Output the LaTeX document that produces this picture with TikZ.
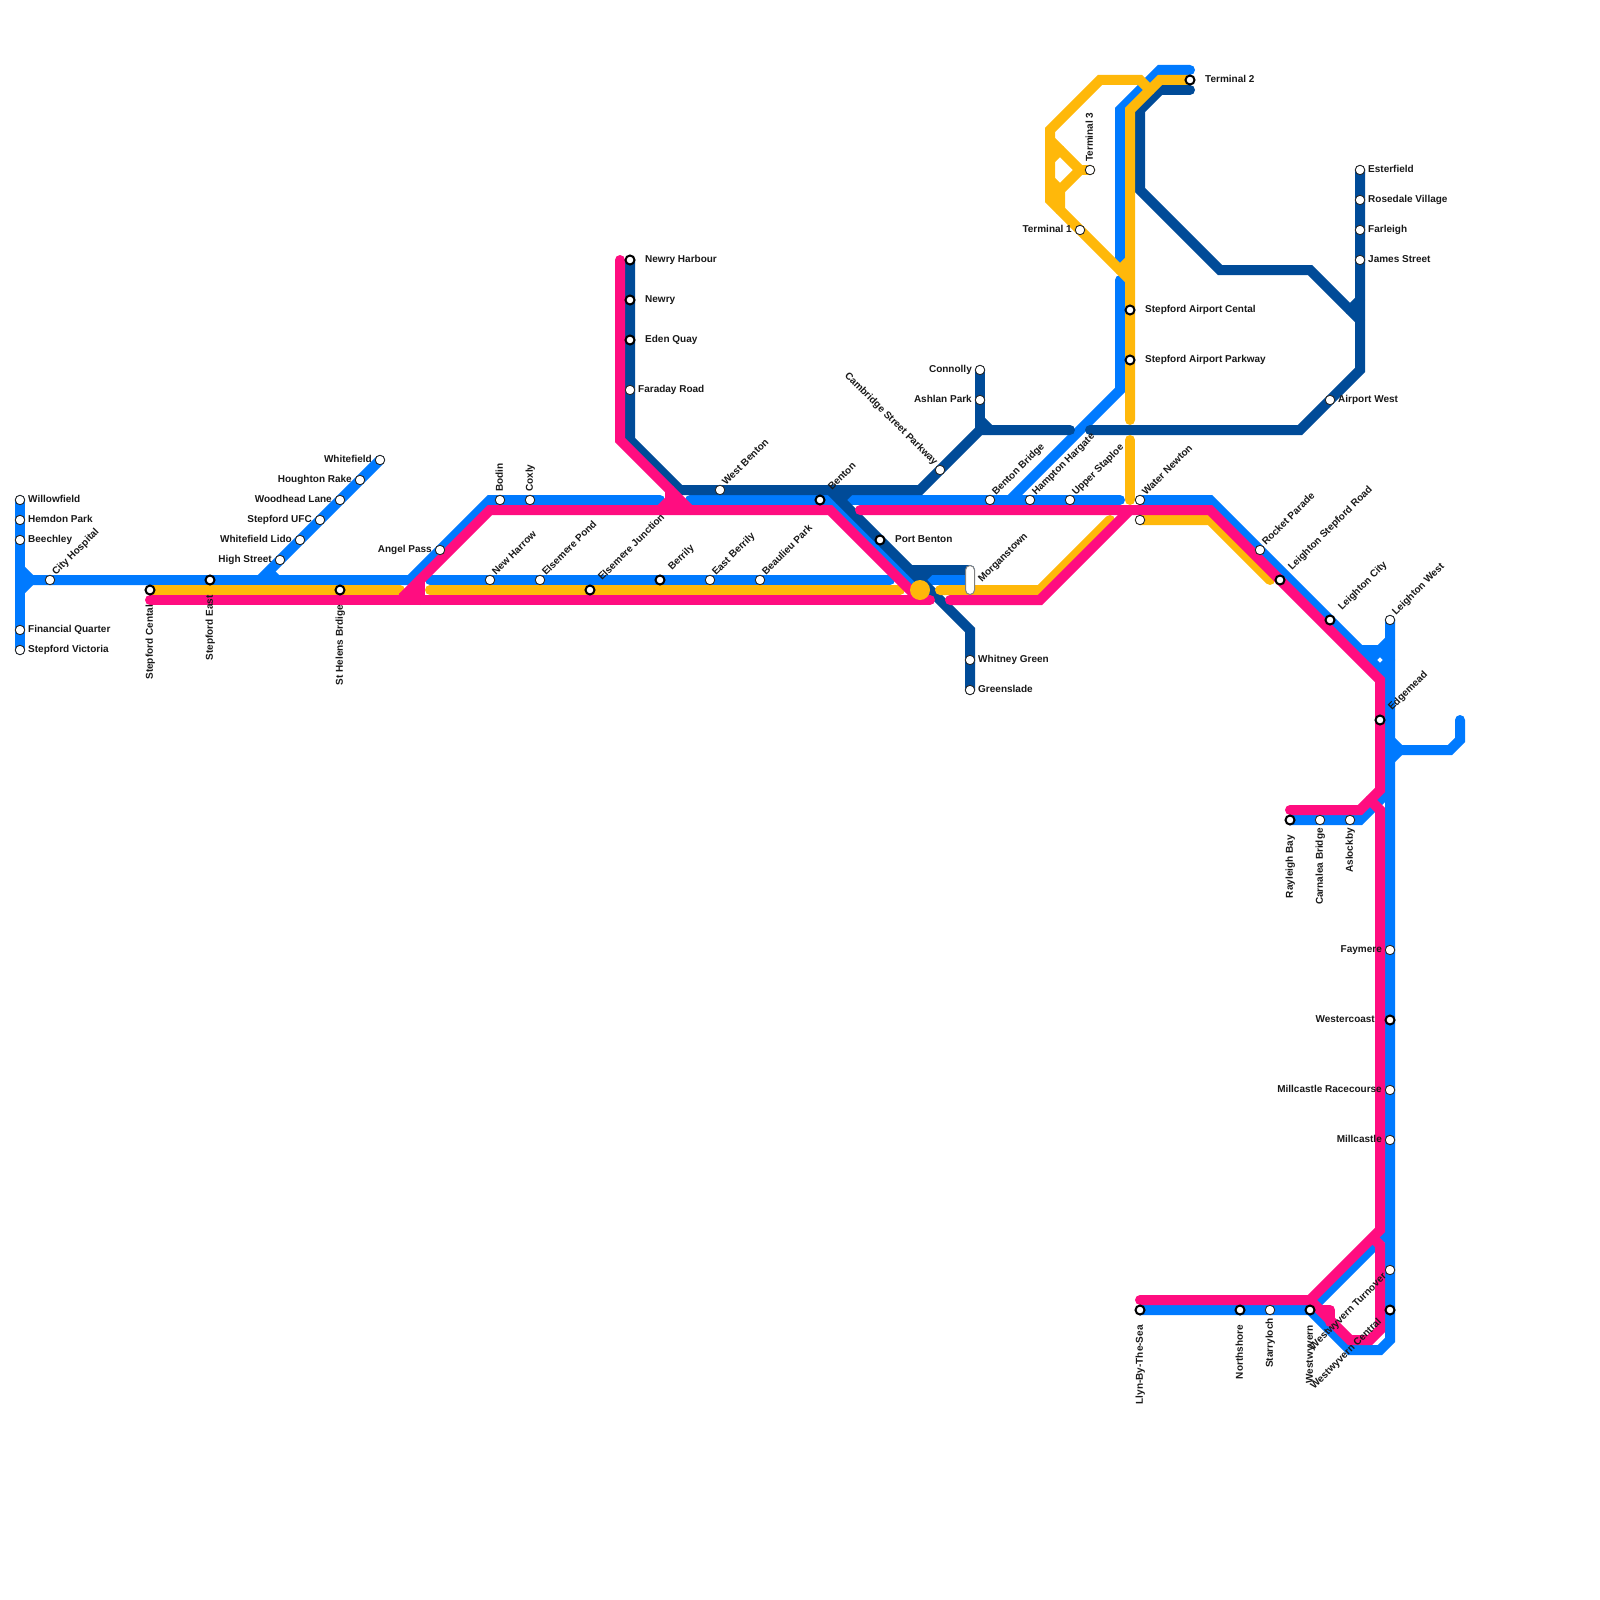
\documentclass[tikz,border=0pt]{standalone}
\usepackage{fontspec}
\setmainfont{Liberation Sans}
\usetikzlibrary{backgrounds}
\definecolor{lineblue}{HTML}{007AFF}
\definecolor{linenavy}{HTML}{004B98}
\definecolor{linepink}{HTML}{FF0D80}
\definecolor{lineamber}{HTML}{FFB80A}
\tikzset{
  blueline/.style={draw=lineblue, line width=10pt, line cap=round, line join=miter},
  navyline/.style={draw=linenavy, line width=10pt, line cap=round, line join=miter},
  pinkline/.style={draw=linepink, line width=10pt, line cap=round, line join=miter},
  amberline/.style={draw=lineamber, line width=10pt, line cap=round, line join=miter},
  stn/.style={draw=black!85, fill=white, circle, line width=0.9pt, minimum size=9.5pt, inner sep=0pt},
  stnx/.style={draw=black, fill=white, circle, line width=2pt, minimum size=9pt, inner sep=0pt},
  lbl/.style={font=\fontsize{10}{12}\selectfont\bfseries, inner sep=0pt, text height=7.5pt, text depth=2pt, text=black!90},
  lblr/.style={lbl, anchor=west},
  lbll/.style={lbl, anchor=east},
  lblne/.style={lbl, anchor=west, rotate=45},
  lblsw/.style={lbl, anchor=east, rotate=45},
  lblnw/.style={lbl, anchor=east, rotate=-45},
  lbldn/.style={lbl, anchor=east, rotate=90},
  lblup/.style={lbl, anchor=west, rotate=90},
}
\begin{document}
\begin{tikzpicture}[x=1pt, y=-1pt]
    \useasboundingbox (0,0) rectangle (1600,1600);
    \node[stn] (willow) at (20,500) {};
    \node[stn] (hemdon) at (20,520) {};
    \node[stn] (beech) at (20,540) {};
    \node[stn] (fquarter) at (20,630) {};
    \node[stn] (svictoria) at (20,650) {};
    \node[stn] (chospital) at (50,580) {};
    \node[stnx] (scental) at (150,590) {};
    \node[stnx] (seast) at (210,580) {};
    \node[stnx] (shelens) at (340,590) {};
    \node[stn] (hstreet) at (280,560) {};
    \node[stn] (wlido) at (300,540) {};
    \node[stn] (sufc) at (320,520) {};
    \node[stn] (wlane) at (340,500) {};
    \node[stn] (hrake) at (360,480) {};
    \node[stn] (wfield) at (380,460) {};
    \node[stn] (apass) at (440,550) {};
    \node[stn] (bodin) at (500,500) {};
    \node[stn] (coxly) at (530,500) {};
    \node[stn] (nharrow) at (490,580) {};
    \node[stn] (epond) at (540,580) {};
    \node[stnx] (ejunction) at (590,590) {};
    \node[stnx] (berrily) at (660,580) {};
    \node[stn] (eberrily) at (710,580) {};
    \node[stn] (bpark) at (760,580) {};
    \node[stnx] (nharbour) at (630,260) {};
    \node[stnx] (newry) at (630,300) {};
    \node[stnx] (equay) at (630,340) {};
    \node[stn] (froad) at (630,390) {};
    \node[stn] (wbenton) at (720,490) {};
    \node[stnx] (benton) at (820,500) {};
    \node[stnx] (pbenton) at (880,540) {};
    \node[stn] (csp) at (940,470) {};
    \node[stn] (connolly) at (980,370) {};
    \node[stn] (ashlan) at (980,400) {};
    \node[stn] (bbridge) at (990,500) {};
    \node[stn] (hhargate) at (1030,500) {};
    \node[stn] (ustaploe) at (1070,500) {};
    \node[stn] (wnewton) at (1140,500) {};
    \node[stn] (wnewton2) at (1140,520) {};
    \node[stn] (wgreen) at (970,660) {};
    \node[stn] (gslade) at (970,690) {};
    \node[stn] (term1) at (1080,230) {};
    \node[stn] (term3) at (1090,170) {};
    \node[stnx] (term2) at (1190,80) {};
    \node[stnx] (sacental) at (1130,310) {};
    \node[stnx] (saparkway) at (1130,360) {};
    \node[stn] (ester) at (1360,170) {};
    \node[stn] (rosedale) at (1360,200) {};
    \node[stn] (farleigh) at (1360,230) {};
    \node[stn] (james) at (1360,260) {};
    \node[stn] (awest) at (1330,400) {};
    \node[stn] (rocket) at (1260,550) {};
    \node[stnx] (lsroad) at (1280,580) {};
    \node[stnx] (lcity) at (1330,620) {};
    \node[stn] (lwest) at (1390,620) {};
    \node[stnx] (edge) at (1380,720) {};
    \node[stnx] (rbay) at (1290,820) {};
    \node[stn] (carnalea) at (1320,820) {};
    \node[stn] (aslock) at (1350,820) {};
    \node[stn] (faymere) at (1390,950) {};
    \node[stnx] (wcoast) at (1390,1020) {};
    \node[stn] (mrace) at (1390,1090) {};
    \node[stn] (mcastle) at (1390,1140) {};
    \node[stn] (wturn) at (1390,1270) {};
    \node[stnx] (wcentral) at (1390,1310) {};
    \node[stnx] (llyn) at (1140,1310) {};
    \node[stnx] (nshore) at (1240,1310) {};
    \node[stn] (sloch) at (1270,1310) {};
    \node[stnx] (wwyvern) at (1310,1310) {};
    \node[draw=gray, fill=white, line width=1pt, rounded corners=4.5pt, minimum width=9pt, minimum height=29pt, inner sep=0pt] (mtown) at (970,580) {};
    \node[fill=lineamber, circle, minimum size=20pt, inner sep=0pt] (hub) at (920,590) {};

    \coordinate (j1) at (20,580);
    \coordinate (j1a) at (20,569);
    \coordinate (j1b) at (31,580);
    \coordinate (j1c) at (20,591);
    \coordinate (j2) at (260,580);
    \coordinate (j2a) at (270,573);
    \coordinate (j2b) at (277,580);
    \coordinate (b1) at (410,580);
    \coordinate (b2) at (490,500);
    \coordinate (b3) at (660,500);
    \coordinate (b4) at (690,500);
    \coordinate (b5) at (830,500);
    \coordinate (b6) at (920,590);
    \coordinate (b7) at (430,580);
    \coordinate (b8) at (890,580);
    \coordinate (b9) at (930,580);
    \coordinate (b10) at (850,500);
    \coordinate (b11) at (1120,500);
    \coordinate (b12) at (1120,390);
    \coordinate (b13) at (1010,500);
    \coordinate (b14) at (1120,280);
    \coordinate (b15) at (1120,260);
    \coordinate (b16) at (1120,110);
    \coordinate (b17) at (1160,70);
    \coordinate (b18) at (1190,70);
    \coordinate (b19) at (1210,500);
    \coordinate (b20) at (1390,680);
    \coordinate (b21) at (1360,650);
    \coordinate (b22) at (1380,650);
    \coordinate (b23) at (1390,640);
    \coordinate (b24) at (1370,660);
    \coordinate (b25) at (1390,660);
    \coordinate (b26) at (1380,670);
    \coordinate (b27) at (1390,1340);
    \coordinate (b29) at (1350,1350);
    \coordinate (b30) at (1390,740);
    \coordinate (b31) at (1400,750);
    \coordinate (b32) at (1390,760);
    \coordinate (b33) at (1450,750);
    \coordinate (b34) at (1460,740);
    \coordinate (b35) at (1460,720);
    \coordinate (b36) at (1360,820);
    \coordinate (b37) at (1390,790);
    \coordinate (b38) at (1390,1230);
    \coordinate (b39) at (1380,1350);
    \coordinate (n1) at (630,440);
    \coordinate (n2) at (680,490);
    \coordinate (n3) at (920,490);
    \coordinate (n4) at (980,430);
    \coordinate (n5) at (1070,430);
    \coordinate (n6) at (990,430);
    \coordinate (n7) at (980,420);
    \coordinate (n8) at (830,490);
    \coordinate (n9) at (970,630);
    \coordinate (n10) at (910,570);
    \coordinate (n11) at (970,570);
    \coordinate (n12) at (930,570);
    \coordinate (n13) at (920,580);
    \coordinate (n14) at (850,490);
    \coordinate (n15) at (840,500);
    \coordinate (n16) at (1090,430);
    \coordinate (n17) at (1300,430);
    \coordinate (n18) at (1360,370);
    \coordinate (n19) at (1190,90);
    \coordinate (n20) at (1160,90);
    \coordinate (n21) at (1140,110);
    \coordinate (n22) at (1140,190);
    \coordinate (n23) at (1220,270);
    \coordinate (n24) at (1310,270);
    \coordinate (n25) at (1360,320);
    \coordinate (n26) at (1350,310);
    \coordinate (n27) at (1360,300);
    \coordinate (a1) at (400,590);
    \coordinate (a2) at (430,590);
    \coordinate (a3) at (900,590);
    \coordinate (a4) at (940,590);
    \coordinate (a5) at (1040,590);
    \coordinate (a6) at (1110,520);
    \coordinate (a7) at (1210,520);
    \coordinate (a8) at (1270,580);
    \coordinate (a9) at (1130,500);
    \coordinate (a10) at (1130,440);
    \coordinate (a11) at (1130,420);
    \coordinate (a12) at (1130,110);
    \coordinate (a13) at (1160,80);
    \coordinate (a14) at (1150,90);
    \coordinate (a15) at (1140,80);
    \coordinate (a16) at (1100,80);
    \coordinate (a17) at (1050,130);
    \coordinate (a18) at (1050,200);
    \coordinate (a19) at (1130,280);
    \coordinate (a20) at (1120,270);
    \coordinate (a21) at (1130,260);
    \coordinate (a22) at (1080,170);
    \coordinate (a23) at (1060,190);
    \coordinate (a24) at (1050,160);
    \coordinate (a25) at (1060,150);
    \coordinate (a26) at (1050,180);
    \coordinate (a28) at (1060,210);
    \coordinate (a29) at (1050,140);
    \coordinate (p1) at (150,600);
    \coordinate (p2) at (930,600);
    \coordinate (p3) at (403,597);
    \coordinate (p4) at (490,510);
    \coordinate (p5) at (830,510);
    \coordinate (p6) at (920,600);
    \coordinate (p7) at (420,580);
    \coordinate (p8) at (420,600);
    \coordinate (p9) at (620,260);
    \coordinate (p10) at (620,440);
    \coordinate (p11) at (690,510);
    \coordinate (p12) at (670,490);
    \coordinate (p13) at (670,500);
    \coordinate (p14) at (660,510);
    \coordinate (p15) at (950,600);
    \coordinate (p16) at (1040,600);
    \coordinate (p17) at (1130,510);
    \coordinate (p18) at (860,510);
    \coordinate (p19) at (1210,510);
    \coordinate (p20) at (1380,680);
    \coordinate (p21) at (1380,790);
    \coordinate (p22) at (1360,810);
    \coordinate (p23) at (1290,810);
    \coordinate (p24) at (1370,800);
    \coordinate (p25) at (1380,810);
    \coordinate (p26) at (1380,1230);
    \coordinate (p27) at (1310,1300);
    \coordinate (p28) at (1140,1300);
    \coordinate (p29) at (1375,1240);
    \coordinate (p30) at (1380,1245);
    \coordinate (p31) at (1380,1330);
    \coordinate (p32) at (1370,1340);
    \coordinate (p33) at (1350,1340);
    \coordinate (p34) at (1320,1310);
    \coordinate (p35) at (1330,1310);
    \coordinate (p36) at (1330,1322);
    \coordinate (p37) at (420,597);
    \coordinate (p38) at (670,503);
    \coordinate (p39) at (677,503);

    \begin{scope}[on background layer]
    \draw[blueline] (willow.center) -- (svictoria.center);
    \draw[blueline] (j1a) -- (j1b) -- (j1c);
    \draw[blueline] (j1) -- (b1) -- (b2) -- (b3);
    \draw[blueline] (wfield.center) -- (j2);
    \draw[blueline] (j2a) -- (j2b);
    \draw[blueline] (b7) -- (b8);
    \draw[blueline] (b4) -- (b5) -- (b6);
    \draw[blueline] (b9) -- (mtown.center);
    \draw[blueline] (b10) -- (b11);
    \draw[blueline] (b13) -- (b12) -- (b14);
    \draw[blueline] (b15) -- (b16) -- (b17) -- (b18);
    \draw[blueline] (wnewton.center) -- (b19) -- (b20);
    \draw[blueline] (b21) -- (b22) -- (b23);
    \draw[blueline] (b24) -- (b22);
    \draw[blueline] (b22) -- (b25);
    \draw[blueline] (b25) -- (b26);
    \draw[blueline] (lwest.center) -- (b27) -- (b39) -- (b29) -- (wwyvern.center) -- (llyn.center);
    \draw[blueline] (b30) -- (b31) -- (b32);
    \draw[blueline] (b31) -- (b33) -- (b34) -- (b35);
    \draw[blueline] (rbay.center) -- (b36) -- (b37);
    \draw[blueline] (wwyvern.center) -- (b38);

    \draw[navyline] (nharbour.center) -- (n1) -- (n2) -- (n3) -- (n4) -- (n5);
    \draw[navyline] (connolly.center) -- (n4);
    \draw[navyline] (n7) -- (n6);
    \draw[navyline] (n8) -- (n9) -- (gslade.center);
    \draw[navyline] (n10) -- (n11);
    \draw[navyline] (n12) -- (n13);
    \draw[navyline] (n14) -- (n15);
    \draw[navyline] (n16) -- (n17) -- (n18) -- (ester.center);
    \draw[navyline] (n19) -- (n20) -- (n21) -- (n22) -- (n23) -- (n24) -- (n25);
    \draw[navyline] (n26) -- (n27);

    \draw[amberline] (scental.center) -- (a1);
    \draw[amberline] (a2) -- (a3);
    \draw[amberline] (a4) -- (a5) -- (a6);
    \draw[amberline] (wnewton2.center) -- (a7) -- (a8);
    \draw[amberline] (a9) -- (a10);
    \draw[amberline] (a11) -- (a12) -- (a13) -- (term2.center);
    \draw[amberline] (a14) -- (a15) -- (a16) -- (a17) -- (a18) -- (a19);
    \draw[amberline] (a20) -- (a21);
    \draw[amberline] (a29) -- (a22) -- (a23) -- (a28);
    \draw[amberline] (a22) -- (term3.center);
    \draw[amberline] (a24) -- (a25);
    \draw[amberline] (a26) -- (a23);

    \draw[pinkline] (p1) -- (p2);
    \draw[pinkline] (p3) -- (p4) -- (p5) -- (p6);
    \draw[pinkline] (p7) -- (p8);
    \draw[pinkline] (p3) -- (p37);
    \draw[pinkline] (p9) -- (p10) -- (p11);
    \draw[pinkline] (p12) -- (p13) -- (p14);
    \draw[pinkline] (p38) -- (p39);
    \draw[pinkline] (p15) -- (p16) -- (p17);
    \draw[pinkline] (p18) -- (p19) -- (p20) -- (p21) -- (p22) -- (p23);
    \draw[pinkline] (p24) -- (p25) -- (p26) -- (p27) -- (p28);
    \draw[pinkline] (p29) -- (p30) -- (p31) -- (p32) -- (p33) -- (p27);
    \draw[pinkline, line join=round] (p34) -- (p35) -- (p36);
    \end{scope}

    \node[lblr] (t1) at (28,500) {Willowfield};
    \node[lblr] (t2) at (28,520) {Hemdon Park};
    \node[lblr] (t3) at (28,540) {Beechley};
    \node[lblr] (t4) at (28,630) {Financial Quarter};
    \node[lblr] (t5) at (28,650) {Stepford Victoria};
    \node[lblne] (t6) at (54,574) {City Hospital};
    \node[lbldn] (t7) at (150,605) {Stepford Cental};
    \node[lbldn] (t8) at (210,595) {Stepford East};
    \node[lbldn] (t9) at (340,605) {St Helens Brdige};
    \node[lbll] (t10) at (272,560) {High Street};
    \node[lbll] (t11) at (292,540) {Whitefield Lido};
    \node[lbll] (t12) at (312,520) {Stepford UFC};
    \node[lbll] (t13) at (332,500) {Woodhead Lane};
    \node[lbll] (t14) at (352,480) {Houghton Rake};
    \node[lbll] (t15) at (372,460) {Whitefield};
    \node[lbll] (t16) at (432,550) {Angel Pass};
    \node[lblup] (t17) at (500,492) {Bodin};
    \node[lblup] (t18) at (530,492) {Coxly};
    \node[lblne] (t19) at (494,574) {New Harrow};
    \node[lblne] (t20) at (544,574) {Elsemere Pond};
    \node[lblne] (t21) at (600,579) {Elsemere Junction};
    \node[lblne] (t22) at (670,569) {Berrily};
    \node[lblne] (t23) at (714,574) {East Berrily};
    \node[lblne] (t24) at (764,574) {Beaulieu Park};
    \node[lblr] (t25) at (645,260) {Newry Harbour};
    \node[lblr] (t26) at (645,300) {Newry};
    \node[lblr] (t27) at (645,340) {Eden Quay};
    \node[lblr] (t28) at (638,390) {Faraday Road};
    \node[lblne] (t29) at (724,484) {West Benton};
    \node[lblne] (t30) at (830,489) {Benton};
    \node[lblr] (t31) at (895,540) {Port Benton};
    \node[lblnw] (t32) at (936,464) {Cambridge Street Parkway};
    \node[lbll] (t33) at (972,370) {Connolly};
    \node[lbll] (t34) at (972,400) {Ashlan Park};
    \node[lblne] (t35) at (994,494) {Benton Bridge};
    \node[lblne] (t36) at (1034,494) {Hampton Hargate};
    \node[lblne] (t37) at (1074,494) {Upper Staploe};
    \node[lblne] (t38) at (1144,494) {Water Newton};
    \node[lblne] (t39) at (980,581) {Morganstown};
    \node[lblr] (t40) at (978,660) {Whitney Green};
    \node[lblr] (t41) at (978,690) {Greenslade};
    \node[lbll] (t42) at (1072,230) {Terminal 1};
    \node[lblup] (t43) at (1090,162) {Terminal 3};
    \node[lblr] (t44) at (1205,80) {Terminal 2};
    \node[lblr] (t45) at (1145,310) {Stepford Airport Cental};
    \node[lblr] (t46) at (1145,360) {Stepford Airport Parkway};
    \node[lblr] (t47) at (1368,170) {Esterfield};
    \node[lblr] (t48) at (1368,200) {Rosedale Village};
    \node[lblr] (t49) at (1368,230) {Farleigh};
    \node[lblr] (t50) at (1368,260) {James Street};
    \node[lblr] (t51) at (1338,400) {Airport West};
    \node[lblne] (t52) at (1264,544) {Rocket Parade};
    \node[lblne] (t53) at (1290,569) {Leighton Stepford Road};
    \node[lblne] (t54) at (1340,609) {Leighton City};
    \node[lblne] (t55) at (1394,614) {Leighton West};
    \node[lblne] (t56) at (1390,709) {Edgemead};
    \node[lbldn] (t57) at (1290,835) {Rayleigh Bay};
    \node[lbldn] (t58) at (1320,828) {Carnalea Bridge};
    \node[lbldn] (t59) at (1350,828) {Aslockby};
    \node[lbll] (t60) at (1382,950) {Faymere};
    \node[lbll] (t61) at (1375,1020) {Westercoast};
    \node[lbll] (t62) at (1382,1090) {Millcastle Racecourse};
    \node[lbll] (t63) at (1382,1140) {Millcastle};
    \node[lblsw] (t64) at (1385,1275) {Westwyvern Turnover};
    \node[lblsw] (t65) at (1380,1320) {Westwyvern Central};
    \node[lbldn] (t66) at (1140,1325) {Llyn-By-The-Sea};
    \node[lbldn] (t67) at (1240,1325) {Northshore};
    \node[lbldn] (t68) at (1270,1318) {Starryloch};
    \node[lbldn] (t69) at (1310,1325) {Westwyvern};
\end{tikzpicture}
\end{document}
